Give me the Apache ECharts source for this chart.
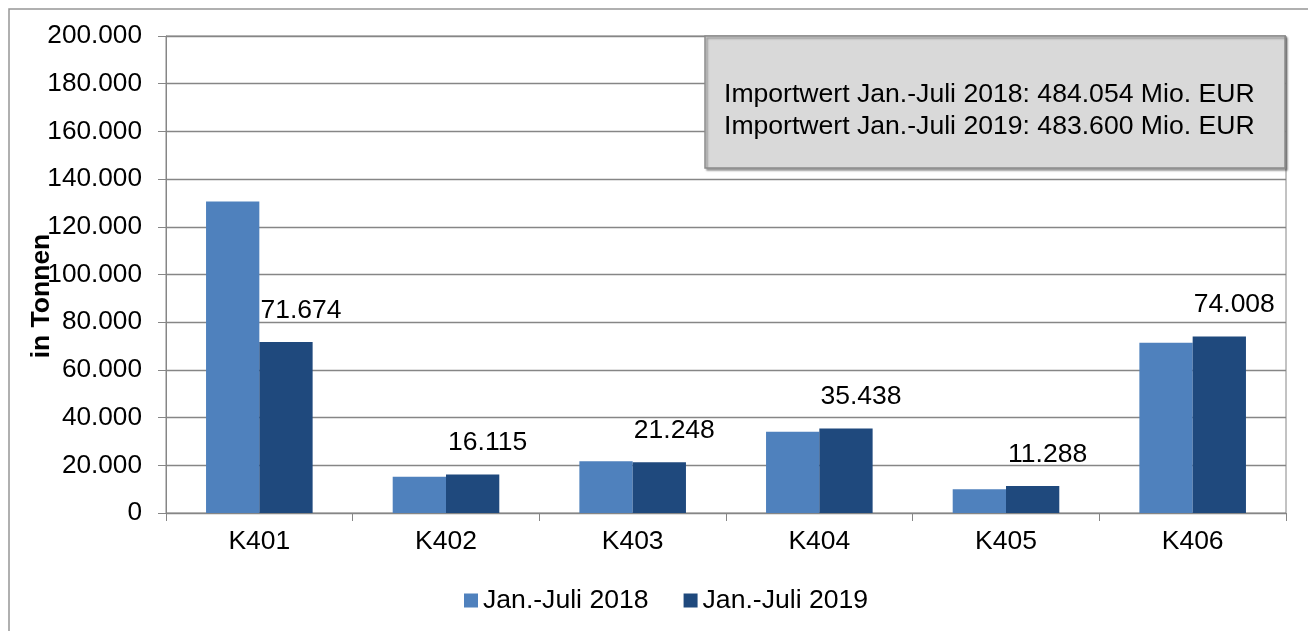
<!DOCTYPE html>
<html>
<head>
<meta charset="utf-8">
<script src="https://cdn.jsdelivr.net/npm/echarts@6/dist/echarts.min.js"></script>
<style>
html,body{margin:0;padding:0;background:#fff;}
#c{width:1308px;height:631px;}
</style>
</head>
<body>
<div id="c"></div>
<script>
// ---- data ----
const categories = ['K401', 'K402', 'K403', 'K404', 'K405', 'K406'];
const seriesNames = ['Jan.-Juli 2018', 'Jan.-Juli 2019'];
const values2018 = [130600, 15250, 21650, 34100, 9950, 71400];
const values2019 = [71674, 16115, 21248, 35438, 11288, 74008];
const yMin = 0, yMax = 200000, yStep = 20000;
const yAxisTitle = 'in Tonnen';
const boxLines = [
  'Importwert Jan.-Juli 2018: 484.054 Mio. EUR',
  'Importwert Jan.-Juli 2019: 483.600 Mio. EUR'
];

function fmt(v) {
  return String(v).replace(/\B(?=(\d{3})+(?!\d))/g, '.');
}

const FONT = '"Liberation Sans", Arial, Helvetica, sans-serif';
const GRAY = '#868686';

const chart = echarts.init(document.getElementById('c'), null, {renderer: 'canvas'});
chart.setOption({
  animation: false,
  backgroundColor: '#fff',
  textStyle: {fontFamily: FONT, color: '#000'},
  grid: {
    left: 166, right: 22, top: 36, bottom: 118,
    show: true, borderColor: GRAY, borderWidth: 1, backgroundColor: 'transparent'
  },
  legend: {
    data: seriesNames,
    left: 464, top: 587,
    padding: 0,
    icon: 'rect',
    itemWidth: 14, itemHeight: 14, itemGap: 35,
    textStyle: {fontFamily: FONT, fontSize: 26.6, color: '#000', padding: [0, 0, 0, 0]}
  },
  xAxis: {
    type: 'category',
    data: categories,
    axisLine: {lineStyle: {color: GRAY, width: 1}},
    axisTick: {show: true, length: 8, lineStyle: {color: GRAY}},
    axisLabel: {fontFamily: FONT, fontSize: 26.5, color: '#000', margin: 15}
  },
  yAxis: {
    type: 'value',
    min: yMin, max: yMax, interval: yStep,
    axisLine: {show: true, lineStyle: {color: GRAY, width: 1}},
    axisTick: {show: true, length: 8, lineStyle: {color: GRAY}},
    splitLine: {show: true, lineStyle: {color: GRAY, width: 1.3}},
    axisLabel: {fontFamily: FONT, fontSize: 26.2, color: '#000', margin: 24, formatter: fmt}
  },
  series: [
    {
      name: seriesNames[0],
      type: 'bar',
      data: values2018,
      barGap: '0%',
      barCategoryGap: '42.9%',
      itemStyle: {color: '#4F81BD'}
    },
    {
      name: seriesNames[1],
      type: 'bar',
      data: values2019,
      barGap: '0%',
      barCategoryGap: '42.9%',
      itemStyle: {color: '#1F497D'},
      label: {
        show: true, position: 'top', offset: [15, -13],
        fontFamily: FONT, fontSize: 26.5, color: '#000',
        formatter: p => fmt(p.value)
      }
    }
  ],
  graphic: [
    {
      type: 'rect', z: 0, silent: true,
      shape: {x: 9, y: 9, width: 1320, height: 700},
      style: {fill: null, stroke: '#969696', lineWidth: 1.5}
    },
    {
      type: 'rect', z: 50, silent: true,
      shape: {x: 705, y: 36, width: 580, height: 132},
      style: {
        fill: '#d9d9d9', stroke: '#8c8c8c', lineWidth: 1.5,
        shadowColor: 'rgba(0,0,0,0.35)', shadowBlur: 2, shadowOffsetX: 2, shadowOffsetY: 2
      }
    },
    {
      type: 'text', z: 51, silent: true,
      x: 724, y: 79,
      style: {
        text: boxLines.join('\n'),
        font: '26.6px ' + FONT,
        lineHeight: 32,
        fill: '#000',
        align: 'left', verticalAlign: 'top'
      }
    },
    {
      type: 'text', z: 60, silent: true,
      x: 42, y: 296, rotation: Math.PI / 2,
      style: {
        text: yAxisTitle,
        font: 'bold 26.5px ' + FONT,
        fill: '#000',
        align: 'center', verticalAlign: 'middle'
      }
    }
  ]
});
</script>
</body>
</html>
